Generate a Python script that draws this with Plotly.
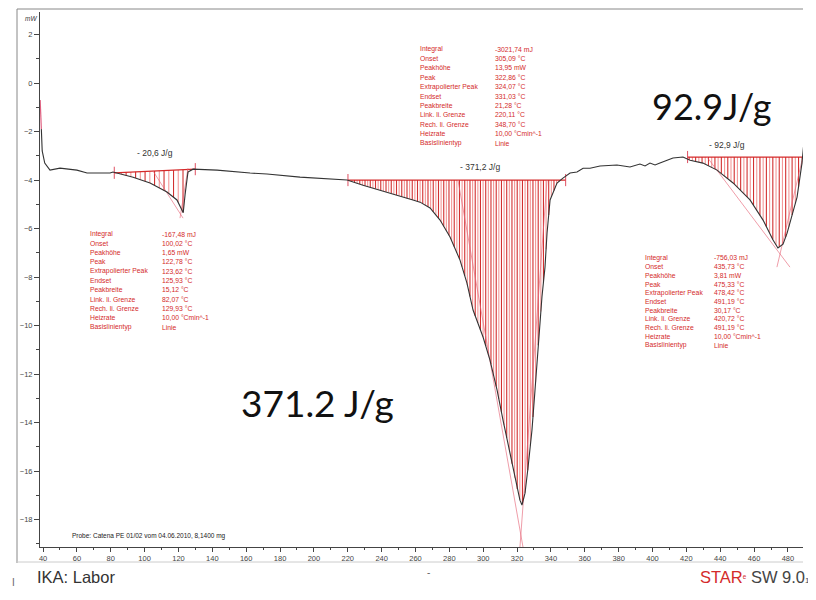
import numpy as np
import plotly.graph_objects as go

# ---------------- data ----------------
temp_c = [38.3, 39.0, 39.5, 41.0, 44.1, 50.0, 56.0, 60.0, 66.0, 79.6,
          81.3, 93.2, 103.2, 113.2, 119.1, 122.1, 122.8, 123.9, 125.6, 128.6,
          142.8, 162.3, 172.3, 191.8, 211.3, 219.6,
          229.0, 239.1, 249.1, 258.5, 262.7, 268.6, 274.5, 280.4, 286.3, 290.4,
          294.0, 299.9, 304.0, 308.2, 311.7, 315.8, 318.8, 321.7, 322.9, 324.7,
          326.5, 328.8, 330.6, 332.4, 334.7, 336.5, 337.7, 339.5, 343.6, 347.1,
          351.3, 355.4, 359.0, 363.1, 369.0, 379.0, 386.7, 392.6, 395.6, 398.5,
          401.5, 404.4, 408.6, 412.1, 418.0,
          422.2, 429.8, 438.1, 447.6, 457.6, 465.3, 471.2, 474.1, 477.1, 479.5,
          485.4, 488.3, 489.5]
heat_flow_mw = [-0.70, -1.90, -2.80, -3.30, -3.59, -3.51, -3.55, -3.59, -3.71, -3.71,
                -3.67, -3.88, -4.12, -4.49, -4.82, -5.24, -5.35, -4.60, -3.67, -3.55,
                -3.59, -3.71, -3.75, -3.88, -3.96, -4.00,
                -4.21, -4.41, -4.62, -4.82, -4.91, -5.15, -5.65, -6.35, -7.30, -8.25,
                -9.36, -10.47, -11.42, -12.66, -13.90, -15.26, -16.37, -17.20, -17.40, -16.91,
                -15.84, -14.31, -12.66, -10.89, -8.82, -7.59, -6.19, -4.82, -4.12, -3.92,
                -3.71, -3.67, -3.51, -3.51, -3.42, -3.38, -3.46, -3.34, -3.42, -3.30,
                -3.38, -3.30, -3.18, -3.09, -3.05,
                -3.18, -3.30, -3.59, -4.12, -4.82, -5.65, -6.47, -6.80, -6.64, -6.19,
                -4.70, -3.30, -2.40]

# integration limits and baseline values (°C, mW)
peak_limits = [(82.07, 129.93), (220.11, 348.70), (420.72, 489.5)]
peak_base = [(-3.70, -3.55), (-4.00, -4.00), (-3.05, -3.05)]
hatch_step = [2.8, 1.55, 1.9]

# tangent constructions (°C, mW)
tangents = [
    [(105.0, -3.63), (122.7, -5.57)], [(125.6, -3.51), (120.9, -5.57)],
    [(285.1, -4.00), (323.5, -19.13)], [(337.7, -4.00), (321.7, -19.13)],
    [(432.2, -3.05), (481.2, -7.59)], [(488.3, -3.20), (473.5, -7.59)],
]

integral_labels = ["- 20,6 J/g", "- 371,2 J/g", "- 92,9 J/g"]

row_names = ["Integral", "Onset", "Peakhöhe", "Peak", "Extrapolierter Peak", "Endset",
             "Peakbreite", "Link. li. Grenze", "Rech. li. Grenze", "Heizrate",
             "Basislinientyp"]
block1_vals = ["-167,48 mJ", "100,02 °C", "1,65 mW", "122,78 °C", "123,62 °C", "125,93 °C",
               "15,12 °C", "82,07 °C", "129,93 °C", "10,00 °Cmin^-1", "Linie"]
block2_vals = ["-3021,74 mJ", "305,09 °C", "13,95 mW", "322,86 °C", "324,07 °C", "331,03 °C",
               "21,28 °C", "220,11 °C", "348,70 °C", "10,00 °Cmin^-1", "Linie"]
block3_vals = ["-756,03 mJ", "435,73 °C", "3,81 mW", "475,33 °C", "478,42 °C", "491,19 °C",
               "30,17 °C", "420,72 °C", "491,19 °C", "10,00 °Cmin^-1", "Linie"]

x_range = [38.2, 488.9]
y_range = [-19.13, 2.93]

# ---------------- figure ----------------
# the page body adds an 8 px offset, so the figure is drawn 8 px smaller/earlier
OFF = 8
W, H = 808, 592
ML, MR, MT, MB = 40 - OFF, 13, 12 - OFF, 53
PW, PH = W - ML - MR, H - MT - MB


def px(xpix):
    return (xpix - OFF - ML) / PW


def py(ypix):
    return (H - MB - (ypix - OFF)) / PH


RED = "#d42a2a"
T = np.array(temp_c)
V = np.array(heat_flow_mw)

fig = go.Figure()

# hatching
for (x0, x1), (b0, b1), st in zip(peak_limits, peak_base, hatch_step):
    xs = np.arange(x0 + st / 2, min(x1, x_range[1]), st)
    sets = [([], []), ([], [])]
    for i, xv in enumerate(xs):
        base = b0 + (b1 - b0) * (xv - x0) / (x1 - x0)
        cv = float(np.interp(xv, T, V))
        if cv < base - 0.02:
            sx, sy = sets[i % 2]
            sx += [xv, xv, None]
            sy += [base, cv, None]
    for k, col in enumerate(["rgba(205,25,25,0.9)", "rgba(238,110,110,0.7)"]):
        fig.add_trace(go.Scatter(x=sets[k][0], y=sets[k][1], mode="lines",
                                 line=dict(color=col, width=1.1), hoverinfo="skip",
                                 showlegend=False))

# baselines + limit markers
for (x0, x1), (b0, b1) in zip(peak_limits, peak_base):
    fig.add_trace(go.Scatter(x=[x0, x1], y=[b0, b1], mode="lines",
                             line=dict(color=RED, width=1.2), showlegend=False,
                             hoverinfo="skip"))
    for xv, bv in [(x0, b0), (x1, b1)]:
        fig.add_trace(go.Scatter(x=[xv, xv], y=[bv + 0.25, bv - 0.25], mode="lines",
                                 line=dict(color="rgba(220,60,80,0.9)", width=1),
                                 showlegend=False, hoverinfo="skip"))

# tangents
for seg in tangents:
    fig.add_trace(go.Scatter(x=[seg[0][0], seg[1][0]], y=[seg[0][1], seg[1][1]],
                             mode="lines", line=dict(color="rgba(230,100,120,0.8)", width=0.8),
                             showlegend=False, hoverinfo="skip"))

# curve
fig.add_trace(go.Scatter(x=temp_c[:2], y=heat_flow_mw[:2], mode="lines",
                         line=dict(color="#e06080", width=1.2), showlegend=False))
fig.add_trace(go.Scatter(x=temp_c[1:], y=heat_flow_mw[1:], mode="lines",
                         line=dict(color="#333333", width=1.1), showlegend=False))

ann = []
small = dict(family="Liberation Sans", size=6.8, color=RED)
for vals, lx, vx, y0, dy in [(block1_vals, 88, 160, 234, 9.3),
                             (block2_vals, 418, 493, 49, 9.4),
                             (block3_vals, 643, 712, 258, 8.7)]:
    for i, (n, v) in enumerate(zip(row_names, vals)):
        yy = y0 + i * dy
        ann.append(dict(x=px(lx), y=py(yy), xref="paper", yref="paper", text=n,
                        showarrow=False, xanchor="left", yanchor="middle", font=small))
        ann.append(dict(x=px(vx), y=py(yy), xref="paper", yref="paper", text=v,
                        showarrow=False, xanchor="left", yanchor="middle", font=small))

for txt, (xx, yy) in zip(integral_labels, [(135, 153), (458, 167), (707, 145)]):
    ann.append(dict(x=px(xx), y=py(yy), xref="paper", yref="paper", text=txt,
                    showarrow=False, xanchor="left", yanchor="middle",
                    font=dict(family="Liberation Sans", size=8.5, color="#333")))

# big annotations
ann.append(dict(x=px(317), y=py(402), xref="paper", yref="paper", text="371.2 J/g",
                showarrow=False, xanchor="center", yanchor="middle",
                font=dict(family="Lato", size=37, color="#111")))
ann.append(dict(x=px(712), y=py(106), xref="paper", yref="paper", text="92.9J/g",
                showarrow=False, xanchor="center", yanchor="middle",
                font=dict(family="Lato", size=36, color="#111")))

ann.append(dict(x=px(70), y=py(536), xref="paper", yref="paper",
                text="Probe: Catena PE 01/02 vom 04.06.2010, 8,1400 mg",
                showarrow=False, xanchor="left", yanchor="middle",
                font=dict(family="Liberation Sans", size=6.5, color="#222")))
ann.append(dict(x=px(23), y=py(18), xref="paper", yref="paper", text="<i>mW</i>",
                showarrow=False, xanchor="left", yanchor="middle",
                font=dict(family="Liberation Sans", size=6.5, color="#333")))
ann.append(dict(x=px(35), y=py(577), xref="paper", yref="paper", text="IKA: Labor",
                showarrow=False, xanchor="left", yanchor="middle",
                font=dict(family="Liberation Sans", size=16.5, color="#333")))
ann.append(dict(x=px(812), y=py(577), xref="paper", yref="paper",
                text="<span style='color:#d42a2a'>STAR</span><span style='color:#d42a2a;font-size:9px'><sup>e</sup></span> SW 9.0<span style='font-size:8px'>1</span>",
                showarrow=False, xanchor="right", yanchor="middle",
                font=dict(family="Liberation Sans", size=16.5, color="#444")))
ann.append(dict(x=px(428), y=py(580), xref="paper", yref="paper", text="-",
                showarrow=False, font=dict(family="Liberation Sans", size=10, color="#666")))
ann.append(dict(x=px(10), y=py(590), xref="paper", yref="paper", text="I",
                showarrow=False, font=dict(family="Liberation Sans", size=10, color="#666")))

shapes = [
    dict(type="line", xref="paper", yref="paper", x0=px(17), x1=px(17), y0=py(9), y1=py(563),
         line=dict(color="#888", width=1)),
    dict(type="line", xref="paper", yref="paper", x0=px(17), x1=px(803), y0=py(9), y1=py(9),
         line=dict(color="#888", width=1)),
    dict(type="line", xref="paper", yref="paper", x0=px(17), x1=px(803), y0=py(562), y1=py(562),
         line=dict(color="#ccc", width=1)),
]

tickfont = dict(family="Liberation Sans", size=7.5, color="#444")
fig.update_layout(
    width=W, height=H, margin=dict(l=ML, r=MR, t=MT, b=MB, autoexpand=False),
    paper_bgcolor="white", plot_bgcolor="white", showlegend=False,
    annotations=ann, shapes=shapes,
    xaxis=dict(range=x_range, tick0=40, dtick=20, ticks="outside", ticklen=4,
               tickcolor="#444", showline=True, linecolor="#444", linewidth=1,
               showgrid=False, zeroline=False, tickfont=tickfont, automargin=False,
               minor=dict(dtick=10, ticks="outside", ticklen=2, tickcolor="#444")),
    yaxis=dict(range=y_range, tick0=0, dtick=2, ticks="outside", ticklen=5,
               tickcolor="#444", showline=True, linecolor="#444", linewidth=1,
               showgrid=False, zeroline=False, tickfont=tickfont, automargin=False,
               minor=dict(dtick=1, ticks="outside", ticklen=3, tickcolor="#444")),
)

fig.write_html("out.html")
